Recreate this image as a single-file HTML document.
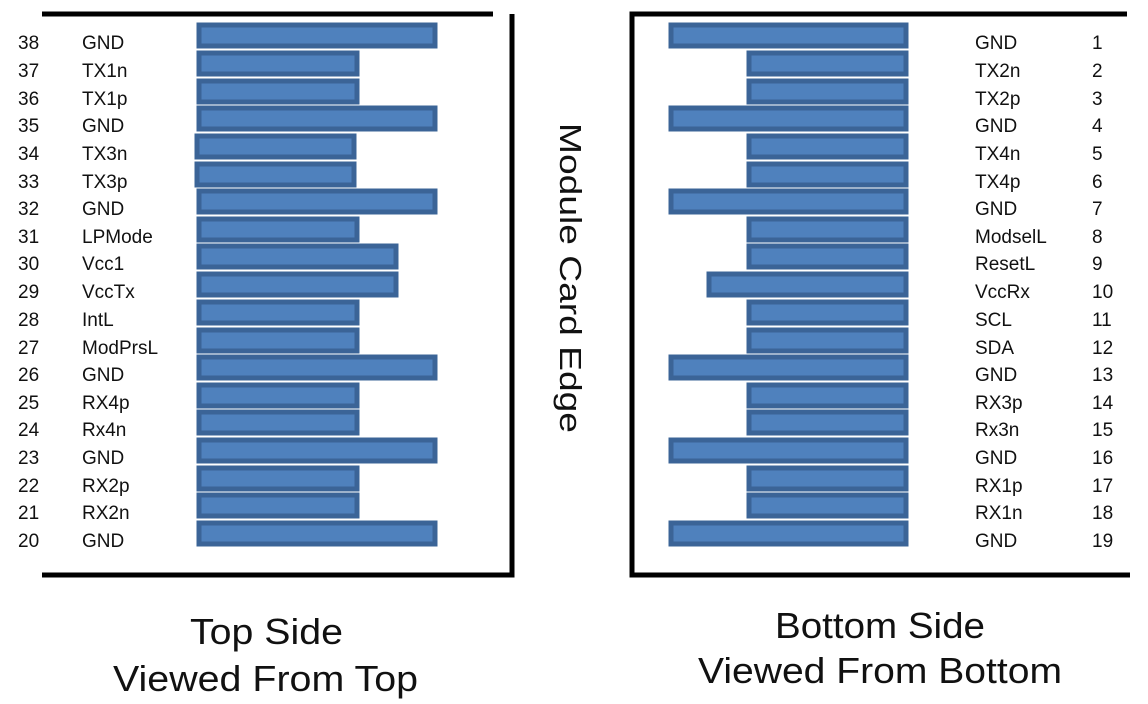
<!DOCTYPE html>
<html><head><meta charset="utf-8"><style>
html,body{margin:0;padding:0;background:#fff;}
svg{display:block;}
text{font-family:"Liberation Sans",Arial,sans-serif;fill:#111;}
</style></head><body>
<svg width="1148" height="704" viewBox="0 0 1148 704" xmlns="http://www.w3.org/2000/svg">
<g fill="none" stroke="#000" stroke-width="5">
<polyline points="42,14 493,14"/>
<polyline points="512,14 512,575 42,575"/>
<polyline points="1127,14 632,14 632,575 1130,575"/>
</g>
<g id="bars" fill="#4f81bd" stroke="#3b6497" stroke-width="5">
<rect x="199" y="25" width="236" height="21"/>
<rect x="199" y="53" width="158" height="21"/>
<rect x="199" y="81" width="158" height="21"/>
<rect x="199" y="108" width="236" height="21"/>
<rect x="197" y="136" width="157" height="21"/>
<rect x="197" y="164" width="157" height="21"/>
<rect x="199" y="191" width="236" height="21"/>
<rect x="199" y="219" width="158" height="21"/>
<rect x="199" y="246" width="197" height="21"/>
<rect x="199" y="274" width="197" height="21"/>
<rect x="199" y="302" width="158" height="21"/>
<rect x="199" y="330" width="158" height="21"/>
<rect x="199" y="357" width="236" height="21"/>
<rect x="199" y="385" width="158" height="21"/>
<rect x="199" y="412" width="158" height="21"/>
<rect x="199" y="440" width="236" height="21"/>
<rect x="199" y="468" width="158" height="21"/>
<rect x="199" y="495" width="158" height="21"/>
<rect x="199" y="523" width="236" height="21"/>

<rect x="671" y="25" width="235" height="21"/>
<rect x="749" y="53" width="157" height="21"/>
<rect x="749" y="81" width="157" height="21"/>
<rect x="671" y="108" width="235" height="21"/>
<rect x="749" y="136" width="157" height="21"/>
<rect x="749" y="164" width="157" height="21"/>
<rect x="671" y="191" width="235" height="21"/>
<rect x="749" y="219" width="157" height="21"/>
<rect x="749" y="246" width="157" height="21"/>
<rect x="709" y="274" width="197" height="21"/>
<rect x="749" y="302" width="157" height="21"/>
<rect x="749" y="330" width="157" height="21"/>
<rect x="671" y="357" width="235" height="21"/>
<rect x="749" y="385" width="157" height="21"/>
<rect x="749" y="412" width="157" height="21"/>
<rect x="671" y="440" width="235" height="21"/>
<rect x="749" y="468" width="157" height="21"/>
<rect x="749" y="495" width="157" height="21"/>
<rect x="671" y="523" width="235" height="21"/>
</g>
<g font-size="19">
<text x="18" y="49">38</text><text x="82" y="49">GND</text>
<text x="18" y="77">37</text><text x="82" y="77">TX1n</text>
<text x="18" y="105">36</text><text x="82" y="105">TX1p</text>
<text x="18" y="132">35</text><text x="82" y="132">GND</text>
<text x="18" y="160">34</text><text x="82" y="160">TX3n</text>
<text x="18" y="188">33</text><text x="82" y="188">TX3p</text>
<text x="18" y="215">32</text><text x="82" y="215">GND</text>
<text x="18" y="243">31</text><text x="82" y="243">LPMode</text>
<text x="18" y="270">30</text><text x="82" y="270">Vcc1</text>
<text x="18" y="298">29</text><text x="82" y="298">VccTx</text>
<text x="18" y="326">28</text><text x="82" y="326">IntL</text>
<text x="18" y="354">27</text><text x="82" y="354">ModPrsL</text>
<text x="18" y="381">26</text><text x="82" y="381">GND</text>
<text x="18" y="409">25</text><text x="82" y="409">RX4p</text>
<text x="18" y="436">24</text><text x="82" y="436">Rx4n</text>
<text x="18" y="464">23</text><text x="82" y="464">GND</text>
<text x="18" y="492">22</text><text x="82" y="492">RX2p</text>
<text x="18" y="519">21</text><text x="82" y="519">RX2n</text>
<text x="18" y="547">20</text><text x="82" y="547">GND</text>

<text x="975" y="49">GND</text><text x="1092" y="49">1</text>
<text x="975" y="77">TX2n</text><text x="1092" y="77">2</text>
<text x="975" y="105">TX2p</text><text x="1092" y="105">3</text>
<text x="975" y="132">GND</text><text x="1092" y="132">4</text>
<text x="975" y="160">TX4n</text><text x="1092" y="160">5</text>
<text x="975" y="188">TX4p</text><text x="1092" y="188">6</text>
<text x="975" y="215">GND</text><text x="1092" y="215">7</text>
<text x="975" y="243">ModselL</text><text x="1092" y="243">8</text>
<text x="975" y="270">ResetL</text><text x="1092" y="270">9</text>
<text x="975" y="298">VccRx</text><text x="1092" y="298">10</text>
<text x="975" y="326">SCL</text><text x="1092" y="326">11</text>
<text x="975" y="354">SDA</text><text x="1092" y="354">12</text>
<text x="975" y="381">GND</text><text x="1092" y="381">13</text>
<text x="975" y="409">RX3p</text><text x="1092" y="409">14</text>
<text x="975" y="436">Rx3n</text><text x="1092" y="436">15</text>
<text x="975" y="464">GND</text><text x="1092" y="464">16</text>
<text x="975" y="492">RX1p</text><text x="1092" y="492">17</text>
<text x="975" y="519">RX1n</text><text x="1092" y="519">18</text>
<text x="975" y="547">GND</text><text x="1092" y="547">19</text>
</g>
<text transform="translate(560,123) rotate(90)" font-size="31" textLength="310" lengthAdjust="spacingAndGlyphs">Module Card Edge</text>
<g font-size="36">
<text x="190" y="644" textLength="153" lengthAdjust="spacingAndGlyphs">Top Side</text>
<text x="113" y="691" textLength="305" lengthAdjust="spacingAndGlyphs">Viewed From Top</text>
<text x="775" y="638" textLength="210" lengthAdjust="spacingAndGlyphs">Bottom Side</text>
<text x="698" y="683" textLength="364" lengthAdjust="spacingAndGlyphs">Viewed From Bottom</text>
</g>
</svg>
</body></html>
